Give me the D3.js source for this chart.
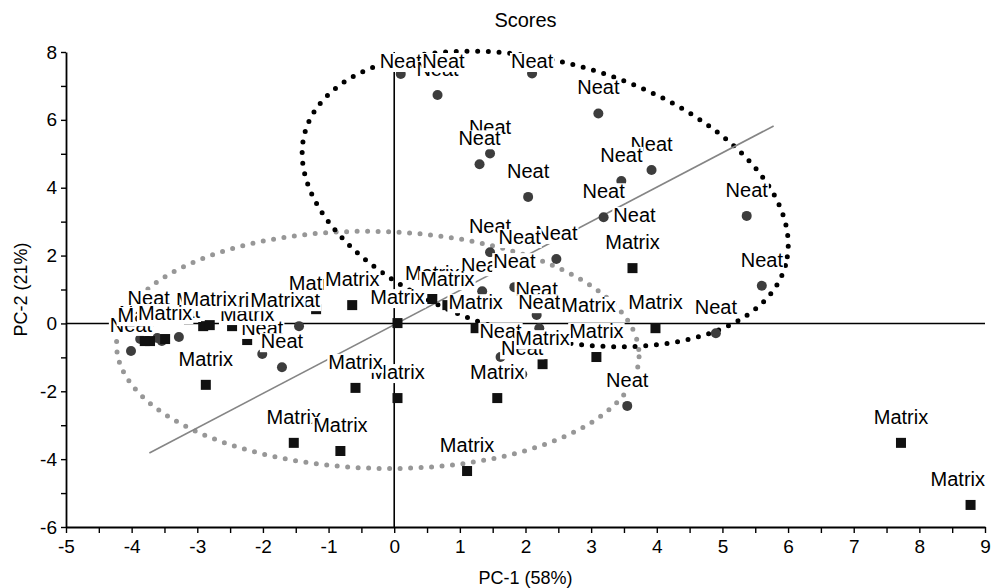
<!DOCTYPE html>
<html>
<head>
<meta charset="utf-8">
<script src="https://cdn.jsdelivr.net/npm/d3@7/dist/d3.min.js"></script>
<style>
  body { margin: 0; background: #fff; }
  text { font-family: "Liberation Sans", Arial, sans-serif; }
</style>
</head>
<body>
<svg id="chart" width="994" height="588"></svg>
<script>
// scores (PC-1, PC-2)
var neatX = [0.10, 0.66, 2.10, 3.11, 1.46, 1.30, 2.04, 3.92, 3.46, 3.19, 5.37, 5.60, 4.90, 3.66, 2.47, 1.46, 1.91,
             1.34, 1.83, 2.17, 2.21, 1.62, 1.95, 3.55, -1.45, -2.01, -1.71, -3.28, -4.01, -3.74, -3.87, -3.61, -3.54, 0.75];
var neatY = [7.35, 6.73, 7.37, 6.19, 5.01, 4.69, 3.73, 4.52, 4.20, 3.13, 3.17, 1.11, -0.29, 2.43, 1.90, 2.10, 1.78,
             0.95, 1.07, 0.25, -0.14, -0.99, -1.50, -2.43, -0.08, -0.90, -1.29, -0.40, -0.81, -0.02, -0.46, -0.43, -0.52, 7.55];

var matrixX = [7.72, 8.78, 3.63, 3.98, 3.08, 2.96, 2.26, 1.57, 1.11, 1.24, 0.58, 0.81, 0.05, 0.05, -0.59, -1.19,
               -0.64, -1.53, -0.82, -2.87, -2.24, -2.47, -1.78, -2.91, -2.81, -3.72, -3.80, -3.49];
var matrixY = [-3.52, -5.35, 1.63, -0.14, -0.99, -0.22, -1.20, -2.20, -4.35, -0.14, 0.72, 0.54, 0.01, -2.20, -1.90, 0.42,
               0.54, -3.52, -3.76, -1.81, -0.49, -0.08, -0.08, -0.08, -0.05, -0.52, -0.52, -0.46];

// group ellipses: centre, first and second semi-axis vectors (data units)
var neatEllipse = [2.30, 3.67, 3.66, -1.96, -0.56, -3.89];
var matrixEllipse = [-0.25, -0.78, 3.98, -0.20, -0.05, -3.49];

// line through the scores
var lineX = [-3.73, 5.78];
var lineY = [-3.82, 5.82];

var xTicks = d3.range(-5, 9.01, 0.5);
var yTicks = d3.range(-6, 8.01, 1);

var svg = d3.select("#chart"),
    margin = {top: 52, right: 9, bottom: 61, left: 66},
    width = +svg.attr("width"),
    height = +svg.attr("height");

var x = d3.scaleLinear().domain([-5, 9]).range([margin.left, width - margin.right]);
var y = d3.scaleLinear().domain([-6, 8]).range([height - margin.bottom, margin.top]);

// zero lines
svg.append("line")
    .attr("x1", x(-5)).attr("x2", x(9)).attr("y1", y(0)).attr("y2", y(0))
    .attr("stroke", "#000").attr("stroke-width", 1.6);
svg.append("line")
    .attr("x1", x(0)).attr("x2", x(0)).attr("y1", y(8)).attr("y2", y(-6))
    .attr("stroke", "#000").attr("stroke-width", 1.6);

// axes
var xAxis = d3.axisBottom(x).tickValues(xTicks).tickSize(6).tickSizeOuter(0)
    .tickFormat(function(d) { return Number.isInteger(d) ? String(d) : ""; });
var yAxis = d3.axisLeft(y).tickValues(yTicks).tickSize(5).tickSizeOuter(0)
    .tickFormat(function(d) { return d % 2 === 0 ? String(d) : ""; });

var gx = svg.append("g").attr("transform", "translate(0," + y(-6) + ")").call(xAxis);
var gy = svg.append("g").attr("transform", "translate(" + x(-5) + ",0)").call(yAxis);

[gx, gy].forEach(function(g) {
    g.select(".domain").attr("stroke", "#000").attr("stroke-width", 1.8);
    g.selectAll(".tick line").attr("stroke", "#000").attr("stroke-width", 1.4);
    g.selectAll(".tick text").attr("fill", "#000").style("font-size", "19px")
        .style("font-family", "'Liberation Sans', Arial, sans-serif");
});
gx.selectAll(".tick text").attr("y", 13);
gy.selectAll(".tick text").attr("x", -9);

// dotted ellipses
function ellipsePath(e) {
    var pts = d3.range(0, 361, 1).map(function(a) {
        var t = a * Math.PI / 180;
        return [x(e[0] + e[2] * Math.cos(t) + e[4] * Math.sin(t)),
                y(e[1] + e[3] * Math.cos(t) + e[5] * Math.sin(t))];
    });
    return d3.line()(pts);
}
svg.append("path").attr("d", ellipsePath(matrixEllipse))
    .attr("fill", "none").attr("stroke", "#979797").attr("stroke-width", 5)
    .attr("stroke-linecap", "round").attr("stroke-dasharray", "0,10.5");
svg.append("path").attr("d", ellipsePath(neatEllipse))
    .attr("fill", "none").attr("stroke", "#000").attr("stroke-width", 5)
    .attr("stroke-linecap", "round").attr("stroke-dasharray", "0,10.7");

svg.append("line")
    .attr("x1", x(lineX[0])).attr("y1", y(lineY[0]))
    .attr("x2", x(lineX[1])).attr("y2", y(lineY[1]))
    .attr("stroke", "#858585").attr("stroke-width", 1.6);

var neat = neatX.map(function(d, i) { return {x: d, y: neatY[i], name: "Neat"}; });
var matrix = matrixX.map(function(d, i) { return {x: d, y: matrixY[i], name: "Matrix"}; });

svg.append("g").selectAll("circle").data(neat).enter()
    .append("circle")
    .attr("cx", function(d) { return x(d.x); })
    .attr("cy", function(d) { return y(d.y); })
    .attr("r", 5)
    .attr("fill", "#3d3d3d");

svg.append("g").selectAll("rect").data(matrix).enter()
    .append("rect")
    .attr("x", function(d) { return x(d.x) - 5; })
    .attr("y", function(d) { return y(d.y) - 5; })
    .attr("width", 10).attr("height", 10)
    .attr("fill", "#111");

// point labels, each on a white box, kept inside the plot area
var labels = svg.append("g");
neat.concat(matrix).forEach(function(d) {
    var g = labels.append("g");
    var txt = g.append("text")
        .attr("text-anchor", "middle")
        .style("font-size", "20px")
        .attr("fill", "#000")
        .text(d.name);
    var w = txt.node().getComputedTextLength();
    var cx = Math.max(x(-5) + w / 2, Math.min(x(9) - w / 2, x(d.x)));
    var base = Math.max(y(d.y) - 19, y(8) + 16);
    txt.attr("x", cx).attr("y", base);
    g.insert("rect", "text")
        .attr("x", cx - w / 2 - 1).attr("y", base - 15)
        .attr("width", w + 2).attr("height", 19)
        .attr("fill", "#fff");
});

// titles
svg.append("text").attr("x", (x(-5) + x(9)) / 2).attr("y", 27)
    .attr("text-anchor", "middle").style("font-size", "20px").text("Scores");
svg.append("text").attr("x", (x(-5) + x(9)) / 2).attr("y", 584)
    .attr("text-anchor", "middle").style("font-size", "18px").text("PC-1 (58%)");
svg.append("text").attr("transform", "translate(27," + (y(8) + y(-6)) / 2 + ") rotate(-90)")
    .attr("text-anchor", "middle").style("font-size", "18px").text("PC-2 (21%)");
</script>
</body>
</html>
